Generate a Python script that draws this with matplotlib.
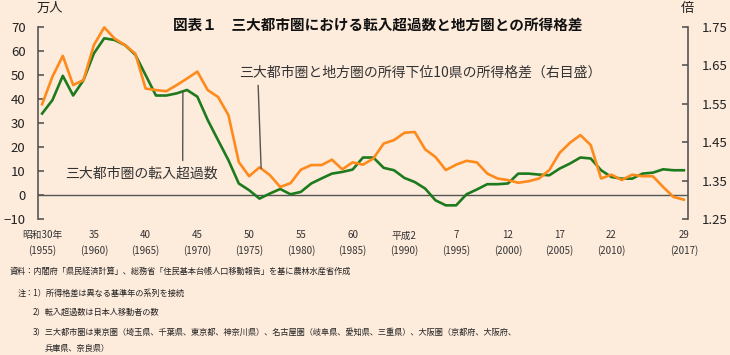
import matplotlib.pyplot as plt

plt.rcParams['font.family'] = ['Noto Sans CJK JP', 'DejaVu Sans']

BG = "#fdebdc"
GREEN = "#1d7b1d"
ORANGE = "#ff8a1c"
AXIS = "#555555"

years = list(range(1955, 2018))

# 三大都市圏の転入超過数（万人）
migration = [
    34.0, 39.6, 49.7, 41.5, 47.9, 59.0, 65.3, 64.6, 62.5, 58.5,
    50.0, 41.5, 41.5, 42.4, 43.8, 41.0, 31.3, 22.9, 14.6, 4.9,
    2.1, -1.4, 0.7, 2.6, 0.4, 1.4, 4.9, 7.0, 9.0, 9.7,
    10.7, 15.7, 15.7, 11.4, 10.4, 7.2, 5.5, 2.8, -2.1, -4.2,
    -4.2, 0.4, 2.4, 4.6, 4.6, 4.9, 9.0, 9.0, 8.6, 8.3,
    11.1, 13.2, 15.7, 15.3, 10.4, 7.6, 6.9, 6.9, 9.0, 9.4,
    10.8, 10.4, 10.4,
]

# 所得格差（倍）
income_gap = [
    1.549, 1.621, 1.675, 1.599, 1.612, 1.703, 1.749, 1.720, 1.703, 1.681,
    1.590, 1.586, 1.583, 1.599, 1.616, 1.634, 1.586, 1.568, 1.521, 1.399,
    1.362, 1.385, 1.365, 1.334, 1.344, 1.379, 1.391, 1.391, 1.405, 1.380,
    1.398, 1.392, 1.408, 1.447, 1.456, 1.475, 1.477, 1.432, 1.412, 1.378,
    1.392, 1.402, 1.398, 1.369, 1.356, 1.352, 1.345, 1.349, 1.356, 1.378,
    1.423, 1.449, 1.469, 1.443, 1.356, 1.366, 1.352, 1.366, 1.362, 1.362,
    1.334, 1.308, 1.301,
]

tick_years = [1955, 1960, 1965, 1970, 1975, 1980, 1985, 1990, 1995, 2000, 2005, 2010, 2017]
tick_era = ["昭和30年", "35", "40", "45", "50", "55", "60", "平成2", "7", "12", "17", "22", "29"]
tick_labels = [f"{e}\n({y})" for e, y in zip(tick_era, tick_years)]

left_ticks = list(range(-10, 80, 10))
right_ticks = [1.25, 1.35, 1.45, 1.55, 1.65, 1.75]

title = "図表１　三大都市圏における転入超過数と地方圏との所得格差"
notes = [
    "資料：内閣府「県民経済計算」、総務省「住民基本台帳人口移動報告」を基に農林水産省作成",
    "注：1）所得格差は異なる基準年の系列を接続",
    "2）転入超過数は日本人移動者の数",
    "3）三大都市圏は東京圏（埼玉県、千葉県、東京都、神奈川県）、名古屋圏（岐阜県、愛知県、三重県）、大阪圏（京都府、大阪府、",
    "兵庫県、奈良県）",
]

fig = plt.figure(figsize=(7.3, 3.55), dpi=100, facecolor=BG)
ax = fig.add_axes([0.052, 0.3823, 0.8905, 0.5416])
ax.set_facecolor(BG)
ax2 = ax.twinx()

ax.axhline(0, color=AXIS, lw=1)
ax.plot(years, migration, color=GREEN, lw=1.9, clip_on=False)
ax2.plot(years, income_gap, color=ORANGE, lw=1.9, clip_on=False)

ax.set_xlim(1954.6, 2017.4)
ax.set_ylim(-10, 70)
ax2.set_ylim(1.25, 1.75)

for a in (ax, ax2):
    a.spines["top"].set_visible(False)
    a.spines["bottom"].set_visible(False)
ax.spines["right"].set_visible(False)
ax2.spines["left"].set_visible(False)
ax.spines["left"].set_color(AXIS)
ax2.spines["right"].set_color(AXIS)
ax.spines["left"].set_linewidth(1.2)
ax2.spines["right"].set_linewidth(1.2)

ax.set_yticks(left_ticks)
ax2.set_yticks(right_ticks, labels=[f"{v:.2f}" for v in right_ticks])
ax.tick_params(axis="y", direction="in", length=4, width=1.2, color=AXIS,
               pad=9, labelsize=9.5, labelcolor="#222")
ax2.tick_params(axis="y", direction="in", length=4, width=1.2, color=AXIS,
                pad=10, labelsize=9.5, labelcolor="#222")

ax.set_xticks(tick_years, labels=tick_labels)
ax.tick_params(axis="x", length=0, pad=8, labelsize=7, labelcolor="#333")
for lbl in ax.get_xticklabels():
    lbl.set_linespacing(1.5)

ax.annotate("三大都市圏の転入超過数", xy=(1968.6, 43.3), xytext=(1964.6, 9.2),
            ha="center", va="center", fontsize=10, color="#333",
            arrowprops=dict(arrowstyle="-", color=AXIS, lw=1,
                            relpos=(0.77, 1.0), shrinkA=2, shrinkB=0))
ax2.annotate("三大都市圏と地方圏の所得下位10県の所得格差（右目盛）",
             xy=(1976.16, 1.382), xytext=(1991.5, 1.631),
             ha="center", va="center", fontsize=10, color="#333",
             arrowprops=dict(arrowstyle="-", color=AXIS, lw=1,
                             relpos=(0.053, 0.0), shrinkA=2, shrinkB=0))

fig.text(0.518, 0.93, title, ha="center", va="center", fontsize=10.5,
         fontweight="bold", color="#111")
fig.text(0.0685, 0.977, "万人", ha="center", va="center", fontsize=9.5, color="#222")
fig.text(0.942, 0.977, "倍", ha="center", va="center", fontsize=9.5, color="#222")

note_x = [10, 18, 33, 33, 45]
note_y = [271, 293, 312, 332, 349]
for txt, nx, ny in zip(notes, note_x, note_y):
    fig.text(nx / 730, 1 - ny / 355, txt, ha="left", va="center",
             fontsize=5.9, color="#222")

fig.savefig("out.png", dpi=100, facecolor=BG)
